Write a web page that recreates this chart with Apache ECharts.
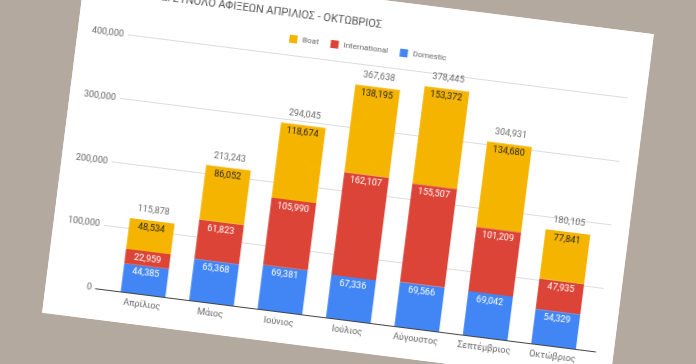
<!DOCTYPE html>
<html>
<head>
<meta charset="utf-8">
<script src="https://cdn.jsdelivr.net/npm/echarts@6/dist/echarts.min.js"></script>
<style>
html,body{margin:0;padding:0;width:696px;height:364px;overflow:hidden;background:#b4a99f;}
#paper{position:absolute;left:61.5px;top:-3.5px;width:572px;height:353px;background:#ffffff;transform:rotate(7.2deg);transform-origin:50% 50%;}
</style>
</head>
<body>
<div id="paper"></div>
<script>
var titleText = 'ΚΩΣ: ΣΥΝΟΛΟ ΑΦΙΞΕΩΝ ΑΠΡΙΛΙΟΣ - ΟΚΤΩΒΡΙΟΣ';
var months = ['Απρίλιος','Μάιος','Ιούνιος','Ιούλιος','Αύγουστος','Σεπτέμβριος','Οκτώβριος'];
var domestic = [44385, 65368, 69381, 67336, 69566, 69042, 54329];
var international = [22959, 61823, 105990, 162107, 155507, 101209, 47935];
var boat = [48534, 86052, 118674, 138195, 153372, 134680, 77841];
var totals = [115878, 213243, 294045, 367638, 378445, 304931, 180105];
var yTicks = [0, 100000, 200000, 300000, 400000];

var fmt = function (v) { return Number(v).toLocaleString('en-US'); };
var FONT = 'Roboto';

function segLabel(color) {
  return {
    show: true, position: 'insideTop', distance: 3,
    color: color, fontFamily: FONT, fontSize: 9,
    formatter: function (p) { return fmt(p.value); }
  };
}

var chart = echarts.init(document.getElementById('paper'), null, {renderer: 'canvas'});
chart.setOption({
  animation: false,
  backgroundColor: '#ffffff',
  title: {
    text: titleText, right: 266, top: 15,
    textStyle: {fontFamily: FONT, fontSize: 11, fontWeight: 'normal', color: '#555555'}
  },
  legend: {
    data: ['Boat', 'International', 'Domestic'],
    left: 206, top: 41, icon: 'rect', itemWidth: 8, itemHeight: 8, itemGap: 12,
    textStyle: {fontFamily: FONT, fontSize: 8, color: '#666666'}
  },
  grid: [
    {left: 50, right: 18, top: 66.5, bottom: 31},
    {left: 63.3, right: 25.9, top: 66.5, bottom: 31}
  ],
  xAxis: [
    {type: 'category', gridIndex: 0, data: ['a'], axisTick: {show: false},
     axisLabel: {show: false}, axisLine: {show: true, lineStyle: {color: '#444444', width: 1}}},
    {type: 'category', gridIndex: 1, data: months, axisTick: {show: false},
     axisLine: {show: false},
     axisLabel: {interval: 0, fontFamily: FONT, fontSize: 9, color: '#666666', margin: 6}}
  ],
  yAxis: [
    {type: 'value', gridIndex: 0, min: yTicks[0], max: yTicks[yTicks.length - 1], interval: 100000,
     axisLine: {show: false}, axisTick: {show: false},
     axisLabel: {fontFamily: FONT, fontSize: 9, color: '#666666', margin: 4,
                 formatter: function (v) { return fmt(v); }},
     splitLine: {lineStyle: {color: '#dcdcdc', width: 1}}},
    {type: 'value', gridIndex: 1, min: yTicks[0], max: yTicks[yTicks.length - 1], interval: 100000,
     show: false, splitLine: {show: false}}
  ],
  series: [
    {name: 'Domestic', type: 'bar', stack: 's', xAxisIndex: 1, yAxisIndex: 1, barWidth: 45,
     data: domestic, itemStyle: {color: '#4285f4'}, label: segLabel('#ffffff')},
    {name: 'International', type: 'bar', stack: 's', xAxisIndex: 1, yAxisIndex: 1, barWidth: 45,
     data: international, itemStyle: {color: '#db4437'}, label: segLabel('#ffffff')},
    {name: 'Boat', type: 'bar', stack: 's', xAxisIndex: 1, yAxisIndex: 1, barWidth: 45,
     data: boat, itemStyle: {color: '#f4b400'}, label: segLabel('#222222')},
    {name: 'Total', type: 'scatter', xAxisIndex: 1, yAxisIndex: 1, symbolSize: 0,
     data: totals, silent: true,
     label: {show: true, position: 'top', distance: 6, color: '#444444', fontFamily: FONT, fontSize: 9,
             formatter: function (p) { return fmt(p.value); }}}
  ]
});
</script>
</body>
</html>
